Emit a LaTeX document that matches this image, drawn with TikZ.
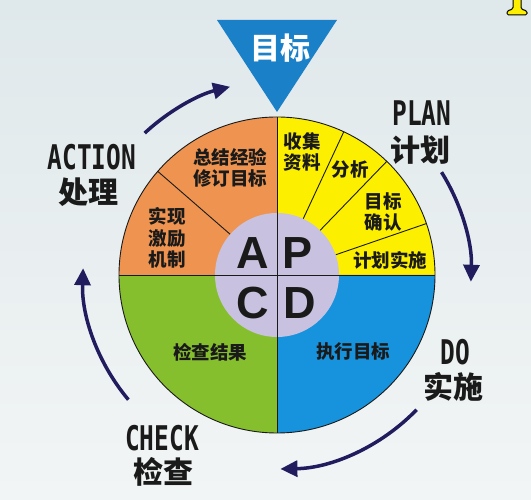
\documentclass[tikz,border=0pt]{standalone}
\usepackage{fontspec}
\usepackage{graphicx}
\usetikzlibrary{arrows.meta}
\newfontfamily\cjk{Noto Sans CJK SC}
\newfontfamily\monob{DejaVu Sans Mono}
\newfontfamily\lsans{Liberation Sans}
\definecolor{bgtop}{HTML}{DFE8EB}
\definecolor{bgbot}{HTML}{F2F5F5}
\definecolor{orng}{HTML}{EE9450}
\definecolor{yell}{HTML}{FCF000}
\definecolor{grn}{HTML}{86BF2E}
\definecolor{blu}{HTML}{1792DD}
\definecolor{lav}{HTML}{C8C1DF}
\definecolor{tri}{HTML}{1A80C8}
\definecolor{navy}{HTML}{211C5E}
\definecolor{ink}{HTML}{1A1A1A}
\tikzset{
  sectortext/.style={font=\cjk\bfseries\fontsize{18.5}{21.5}\selectfont, text=ink, align=center, inner sep=0pt},
  letter/.style={font=\lsans\bfseries\fontsize{45}{45}\selectfont, text=ink, inner sep=0pt},
  phase/.style={font=\monob\bfseries\fontsize{34}{34}\selectfont, text=ink, inner sep=0pt},
  phasecn/.style={font=\cjk\bfseries\fontsize{30}{30}\selectfont, text=ink, inner sep=0pt},
  divline/.style={draw=ink, line width=0.9pt},
  cycarrow/.style={draw=navy, line width=3.5pt, -{Triangle[length=17pt,width=16pt]}}
}
\begin{document}
\begin{tikzpicture}[x=1pt,y=1pt]
\useasboundingbox (0,0) rectangle (531,500);
\shade[top color=bgtop, bottom color=bgbot] (0,0) rectangle (531,500);
% corner artifact
\filldraw[fill=yell, draw=black, line width=1pt, rounded corners=1.5pt]
  (513,502) -- (513,491) -- (507,489) -- (507,485) -- (527,485) -- (527,489) -- (521,491) -- (521,502);
\coordinate (C) at (277,225);
\begin{scope}[shift={(C)}]
  \fill[yell] (0,0) -- (0:158pt) arc[start angle=0,end angle=90,radius=158pt] -- cycle;
  \fill[orng] (0,0) -- (90:158pt) arc[start angle=90,end angle=180,radius=158pt] -- cycle;
  \fill[grn] (0,0) -- (180:158pt) arc[start angle=180,end angle=270,radius=158pt] -- cycle;
  \fill[blu] (0,0) -- (270:158pt) arc[start angle=270,end angle=360,radius=158pt] -- cycle;
  \draw[divline] (0,0) circle[radius=158pt];
  \foreach \a in {19,46,65,139} {
    \draw[divline] (\a:62pt) -- (\a:158pt);
  }
  \fill[lav] (0,0) circle[radius=62pt];
  \draw[divline] (-158pt,0) -- (158pt,0);
  \draw[divline] (0,-158pt) -- (0,158pt);
  % cycle arrows
  \draw[cycarrow] (133:194pt) arc[start angle=133,end angle=104,radius=194pt];
  \draw[cycarrow] (32:194pt) arc[start angle=32,end angle=-2,radius=194pt];
  \draw[cycarrow] (-44:194pt) arc[start angle=-44,end angle=-89,radius=194pt];
  \draw[cycarrow] (220:194pt) arc[start angle=220,end angle=178,radius=194pt];
\end{scope}
% goal triangle
\fill[tri] (217,480) -- (337,480) -- (277,388) -- cycle;
\node[font=\cjk\bfseries\fontsize{30}{30}\selectfont, text=white, inner sep=0pt] (goal) at (280,452) {目标};
% sector texts
\node[sectortext] (collect) at (302,348) {收集\\资料};
\node[sectortext] (analyse) at (350,330) {分析};
\node[sectortext] (confirm) at (383,288) {目标\\确认};
\node[sectortext] (implement) at (390,240) {计划实施};
\node[sectortext] (summary) at (230,332) {总结经验\\修订目标};
\node[sectortext] (incent) at (167,262) {实现\\激励\\机制};
\node[sectortext] (checkres) at (210,148) {检查结果};
\node[sectortext] (execute) at (353,148) {执行目标};
% letters
\node[letter] (A) at (253,247) {A};
\node[letter] (P) at (298,247) {P};
\node[letter] (Cl) at (253,197) {C};
\node[letter] (D) at (300,197) {D};
% phase labels
\node[phase] (action) at (92,343) {\scalebox{0.72}[1]{ACTION}};
\node[phasecn] (actioncn) at (88,308) {处理};
\node[phase] (plan) at (422,387) {\scalebox{0.72}[1]{PLAN}};
\node[phasecn] (plancn) at (420,350) {计划};
\node[phase] (do) at (455,148) {\scalebox{0.72}[1]{DO}};
\node[phasecn] (docn) at (453,113) {实施};
\node[phase] (check) at (162,62) {\scalebox{0.72}[1]{CHECK}};
\node[phasecn] (checkcn) at (163,28) {检查};
\end{tikzpicture}
\end{document}
